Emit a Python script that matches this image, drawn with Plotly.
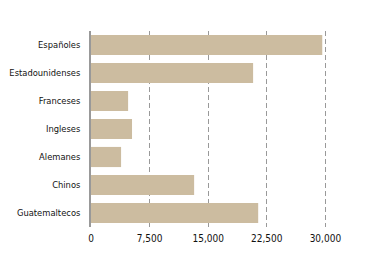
import plotly.graph_objects as go

categories = ["Españoles", "Estadounidenses", "Franceses", "Ingleses", "Alemanes", "Chinos", "Guatemaltecos"]
values = [29600, 20750, 4750, 5250, 3850, 13200, 21400]
tick_vals = [0, 7500, 15000, 22500, 30000]
tick_text = ["0", "7,500", "15,000", "22,500", "30,000"]

fig = go.Figure(go.Bar(
    x=values, y=categories, orientation="h",
    marker=dict(color="#CCBCA0", line=dict(width=0)),
    width=0.72,
))

font = dict(family="DejaVu Sans Condensed, sans-serif", size=10, color="#111111")
yfont = dict(family="DejaVu Sans Condensed, sans-serif", size=9.3, color="#111111")

# page body has an 8px default margin; the figure is sized to fit the 367x266 window
fig.update_layout(
    width=359, height=258,
    margin=dict(l=83, r=26, t=23, b=39),
    paper_bgcolor="white", plot_bgcolor="white",
    showlegend=False,
    font=font,
    xaxis=dict(
        range=[0, 32000], tickvals=tick_vals, ticktext=tick_text,
        showgrid=True, gridcolor="#999999", griddash="5px,3px", gridwidth=1.3,
        zeroline=False, showline=False, ticks="outside", ticklen=2, tickcolor="rgba(0,0,0,0)",
        tickfont=font, automargin=False,
    ),
    yaxis=dict(
        categoryorder="array", categoryarray=categories[::-1],
        range=[-0.5, 6.5],
        showline=True, linecolor="#999999", linewidth=1.5,
        showgrid=False, ticks="outside", ticklen=7, tickcolor="rgba(0,0,0,0)",
        tickfont=yfont, automargin=False,
    ),
    bargap=0.28,
)

fig.write_html("out.html")
